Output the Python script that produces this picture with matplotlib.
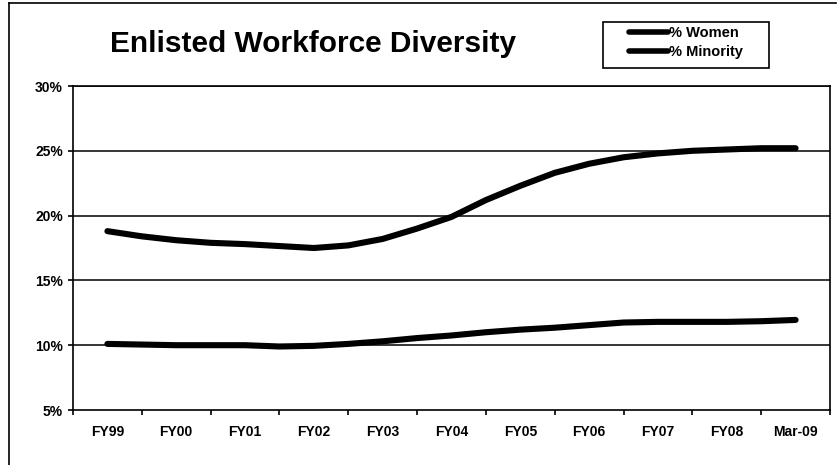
import numpy as np
import matplotlib.pyplot as plt
from matplotlib.lines import Line2D
from matplotlib.patches import Rectangle
from matplotlib.ticker import FixedLocator, NullFormatter

plt.rcParams['font.family'] = ['Liberation Sans', 'DejaVu Sans']
plt.rcParams['font.weight'] = 'bold'

# Fiscal years on the x axis
years = ['FY99', 'FY00', 'FY01', 'FY02', 'FY03', 'FY04',
         'FY05', 'FY06', 'FY07', 'FY08', 'Mar-09']

# Percentages sampled every half year, FY99 through Mar-09
pct_women = [10.1, 10.05, 10.0, 10.0, 10.0, 9.9, 9.95, 10.1, 10.3, 10.55, 10.75,
             11.0, 11.2, 11.35, 11.55, 11.75, 11.8, 11.8, 11.8, 11.85, 11.95]
pct_minority = [18.8, 18.4, 18.1, 17.9, 17.8, 17.65, 17.5, 17.7, 18.2, 19.0, 19.9,
                21.2, 22.3, 23.3, 24.0, 24.5, 24.8, 25.0, 25.1, 25.2, 25.2]

W, H = 840, 465
fig = plt.figure(figsize=(W / 100, H / 100), dpi=100)
ax = fig.add_axes([73 / W, 1 - 410 / H, (830 - 73) / W, (410 - 86) / H])

t = np.arange(len(pct_women)) / 2.0
line_w, = ax.plot(t, pct_women, color='black', lw=4.4,
                  solid_capstyle='round', solid_joinstyle='round', label='% Women')
line_m, = ax.plot(t, pct_minority, color='black', lw=4.4,
                  solid_capstyle='round', solid_joinstyle='round', label='% Minority')

ax.set_xlim(-0.5, len(years) - 0.5)
ax.set_ylim(5, 30)

# category ticks sit between the years, labels centred on them
ax.xaxis.set_major_locator(FixedLocator(np.arange(len(years) + 1) - 0.5))
ax.xaxis.set_major_formatter(NullFormatter())
ax.set_xticks(np.arange(len(years)), labels=years, minor=True)
ax.tick_params(axis='x', which='major', direction='out', length=3.6, width=1.2, color='black')
ax.tick_params(axis='x', which='minor', length=0, pad=11, labelsize=10)

ax.set_yticks(np.arange(5, 31, 5))
ax.set_yticklabels(['%d%%' % v for v in range(5, 31, 5)])
ax.tick_params(axis='y', direction='out', length=3.6, width=1.2, labelsize=10, pad=3.6)
for lbl in ax.get_xticklabels(minor=True) + ax.get_yticklabels():
    lbl.set_fontweight('bold')

for v in range(10, 31, 5):
    ax.axhline(v, color='black', lw=1.1, zorder=1)
for s in ax.spines.values():
    s.set_linewidth(1.2)
    s.set_color('black')

# outer chart frame
fig.add_artist(Line2D([8.5 / W, 836 / W], [1 - 3.5 / H, 1 - 3.5 / H],
                      transform=fig.transFigure, color='black', lw=1.2))
fig.add_artist(Line2D([9 / W, 9 / W], [0, 1 - 3.5 / H],
                      transform=fig.transFigure, color='black', lw=1.2))

fig.text(313 / W, 1 - 52 / H, 'Enlisted Workforce Diversity', ha='center',
         va='baseline', fontsize=21.5, fontweight='bold')

# legend box
fig.add_artist(Rectangle((603 / W, 1 - 68 / H), (769 - 603) / W, (68 - 22) / H,
                         transform=fig.transFigure, fill=False, edgecolor='black', lw=1.2))
leg = fig.legend(handles=[line_w, line_m], loc='upper left',
                 bbox_to_anchor=(629 / W, 1 - 26 / H), frameon=False,
                 fontsize=10.5, handlelength=2.7, handletextpad=0.05,
                 borderpad=0, labelspacing=0.36, borderaxespad=0)
for txt in leg.get_texts():
    txt.set_fontweight('bold')
for h in leg.legend_handles:
    h.set_linewidth(4)

fig.savefig('out.png', dpi=100)
